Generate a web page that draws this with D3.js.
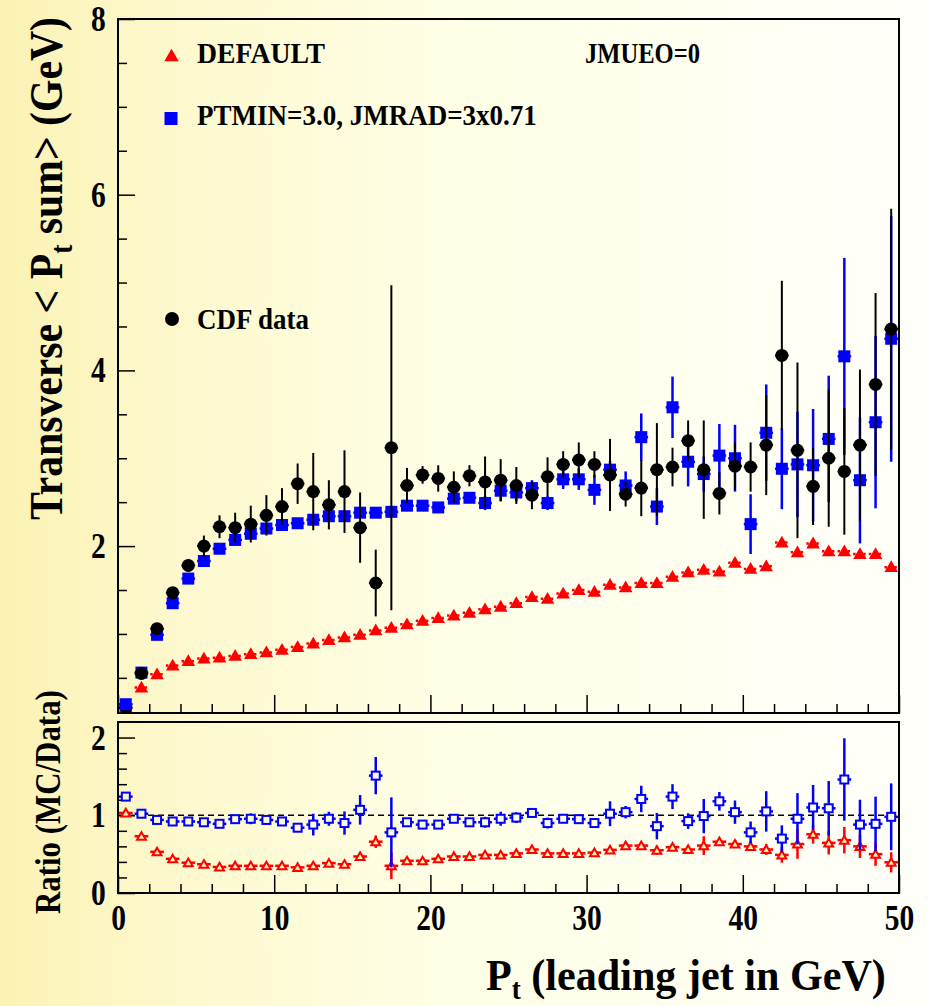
<!DOCTYPE html>
<html><head><meta charset="utf-8">
<script src="https://cdn.jsdelivr.net/npm/d3@7"></script>
<style>html,body{margin:0;padding:0;background:#fff}svg{display:block}</style>
</head><body><svg id="c" width="928" height="1006"></svg>
<script>
// ---------------- DATA ----------------
const binCenters = [0.5,1.5,2.5,3.5,4.5,5.5,6.5,7.5,8.5,9.5,10.5,11.5,12.5,13.5,14.5,15.5,16.5,17.5,18.5,19.5,
  20.5,21.5,22.5,23.5,24.5,25.5,26.5,27.5,28.5,29.5,30.5,31.5,32.5,33.5,34.5,35.5,36.5,37.5,38.5,39.5,
  40.5,41.5,42.5,43.5,44.5,45.5,46.5,47.5,48.5,49.5];

const cdfData = [0.16,0.55,1.06,1.47,1.78,2.00,2.22,2.21,2.25,2.35,2.45,2.71,2.62,2.47,2.62,2.21,1.58,3.12,2.69,2.81,
  2.77,2.67,2.80,2.73,2.75,2.69,2.58,2.79,2.93,2.98,2.93,2.81,2.59,2.66,2.87,2.90,3.20,2.87,2.60,2.91,
  2.90,3.15,4.17,3.09,2.68,3.00,2.85,3.15,3.84,4.47];
const cdfErr = [0.02,0.03,0.04,0.05,0.07,0.12,0.13,0.17,0.21,0.23,0.21,0.23,0.44,0.28,0.47,0.40,0.38,1.85,0.20,0.10,
  0.15,0.18,0.12,0.29,0.24,0.21,0.16,0.22,0.15,0.20,0.15,0.41,0.14,0.32,0.53,0.22,0.23,0.56,0.24,0.27,
  0.28,0.57,0.85,1.00,0.44,0.78,0.72,0.86,1.04,1.37];

const ptminVals = [0.20,0.56,0.99,1.35,1.63,1.83,1.97,2.07,2.14,2.20,2.24,2.26,2.30,2.34,2.34,2.38,2.38,2.39,2.46,2.46,
  2.44,2.54,2.55,2.49,2.63,2.61,2.66,2.49,2.76,2.76,2.64,2.87,2.69,3.24,2.45,3.58,2.96,2.82,3.03,3.00,
  2.25,3.29,2.88,2.93,2.92,3.22,4.16,2.75,3.41,4.36];
const ptminErr = [0.03,0.03,0.03,0.03,0.03,0.03,0.03,0.03,0.03,0.03,0.03,0.03,0.03,0.03,0.03,0.05,0.05,0.05,0.05,0.05,
  0.05,0.05,0.05,0.08,0.12,0.10,0.09,0.08,0.11,0.12,0.17,0.10,0.16,0.27,0.21,0.35,0.28,0.20,0.36,0.38,
  0.34,0.55,0.46,0.60,0.64,0.72,1.12,0.72,0.98,1.40];

const defaultVals = [0.165,0.39,0.54,0.64,0.69,0.72,0.73,0.75,0.77,0.79,0.82,0.85,0.89,0.93,0.96,0.99,1.04,1.07,1.11,1.15,
  1.18,1.21,1.24,1.28,1.31,1.35,1.42,1.40,1.46,1.50,1.48,1.56,1.53,1.58,1.58,1.65,1.70,1.73,1.71,1.81,
  1.74,1.77,2.04,1.93,2.03,1.94,1.94,1.91,1.91,1.76];
const defaultErr = [0.01,0.01,0.01,0.01,0.01,0.01,0.01,0.01,0.01,0.01,0.01,0.01,0.01,0.01,0.01,0.01,0.01,0.01,0.01,0.01,
  0.01,0.01,0.01,0.01,0.01,0.01,0.01,0.01,0.01,0.01,0.01,0.01,0.01,0.01,0.01,0.01,0.01,0.03,0.03,0.03,
  0.03,0.03,0.05,0.05,0.05,0.05,0.05,0.05,0.05,0.05];

const ratioPtmin = [1.24,1.02,0.94,0.92,0.92,0.91,0.89,0.95,0.955,0.94,0.92,0.84,0.88,0.955,0.90,1.07,1.51,0.78,0.91,0.88,
  0.88,0.955,0.91,0.91,0.955,0.97,1.03,0.90,0.955,0.95,0.90,1.02,1.04,1.21,0.86,1.24,0.925,0.99,1.18,1.04,
  0.78,1.05,0.70,0.955,1.10,1.09,1.46,0.88,0.89,0.98];
const ratioPtminErr = [0.03,0.03,0.03,0.03,0.03,0.03,0.04,0.05,0.07,0.06,0.05,0.05,0.14,0.09,0.15,0.19,0.24,0.45,0.05,0.04,
  0.04,0.04,0.04,0.07,0.09,0.07,0.06,0.07,0.05,0.06,0.05,0.16,0.08,0.17,0.17,0.16,0.10,0.22,0.12,0.15,
  0.14,0.26,0.17,0.33,0.29,0.35,0.53,0.32,0.35,0.43];

const ratioDefault = [1.03,0.73,0.53,0.44,0.39,0.37,0.335,0.35,0.35,0.35,0.35,0.33,0.35,0.385,0.37,0.47,0.66,0.35,0.415,0.415,
  0.44,0.47,0.47,0.49,0.49,0.51,0.56,0.51,0.51,0.51,0.52,0.555,0.61,0.61,0.55,0.59,0.56,0.61,0.66,0.63,
  0.60,0.56,0.49,0.63,0.755,0.645,0.68,0.60,0.50,0.395];
const ratioDefaultErr = [0.01,0.01,0.01,0.01,0.01,0.01,0.01,0.01,0.01,0.01,0.01,0.01,0.01,0.01,0.01,0.03,0.08,0.17,0.02,0.02,
  0.02,0.02,0.02,0.02,0.02,0.02,0.02,0.02,0.02,0.02,0.02,0.03,0.03,0.03,0.06,0.03,0.03,0.12,0.05,0.05,
  0.06,0.07,0.10,0.19,0.12,0.15,0.17,0.15,0.15,0.13];

const xMajorTicks = [0,10,20,30,40,50];
const xMinorTicks = [2,4,6,8,12,14,16,18,22,24,26,28,32,34,36,38,42,44,46,48];
const yMainMajorTicks = [2,4,6,8];
const yMainMinorTicks = [0.5,1,1.5,2.5,3,3.5,4.5,5,5.5,6.5,7,7.5];
const yRatioMajorTicks = [0,1,2];
const yRatioMinorTicks = [0.2,0.4,0.6,0.8,1.2,1.4,1.6,1.8];

const legendLabels = ["DEFAULT","PTMIN=3.0, JMRAD=3x0.71","CDF data"];
const tuneLabel = "JMUEO=0";

// ---------------- LAYOUT ----------------
const W = 928, H = 1006;
const L = 118, R = 899;
const mainTop = 19, mainBot = 713;
const ratTop = 722, ratBot = 893;
const FONT = "'Liberation Serif','Times New Roman',serif";
const binW = 1;

const svg = d3.select("#c");
const defs = svg.append("defs");
const grad = defs.append("linearGradient").attr("id","bg")
  .attr("gradientUnits","userSpaceOnUse").attr("x1",0).attr("y1",0).attr("x2",W).attr("y2",0);
grad.append("stop").attr("offset",0).attr("stop-color","#fbf2b4");
grad.append("stop").attr("offset",0.18).attr("stop-color","#fdf8cc");
grad.append("stop").attr("offset",0.45).attr("stop-color","#fffee4");
grad.append("stop").attr("offset",1).attr("stop-color","#fffffa");
svg.append("rect").attr("width",W).attr("height",H).attr("fill","url(#bg)");
defs.append("clipPath").attr("id","clipMain").append("rect")
  .attr("x",L).attr("y",mainTop).attr("width",R-L).attr("height",mainBot-mainTop);

const x = d3.scaleLinear().domain([0,50]).range([L,R]);
const yM = d3.scaleLinear().domain([0.1,8]).range([mainBot,mainTop]);
const yR = d3.scaleLinear().domain([0,2.2]).range([ratBot,ratTop]);

function styleAxis(g){
  g.select(".domain").remove();
  g.selectAll("line").attr("stroke","#000").attr("stroke-width",1.5);
}
function fontAxis(g, size, sx){
  g.attr("font-family",FONT).attr("font-size",size).attr("font-weight","bold");
  g.selectAll("text").attr("fill","#000").attr("transform",`scale(${sx},1)`);
}

// ---- Main axes
svg.append("g").attr("transform",`translate(0,${mainBot})`)
  .call(d3.axisBottom(x).tickValues(xMajorTicks).tickSize(-18).tickFormat("")).call(styleAxis);
svg.append("g").attr("transform",`translate(0,${mainBot})`)
  .call(d3.axisBottom(x).tickValues(xMinorTicks).tickSize(-9).tickFormat("")).call(styleAxis);
svg.append("g").attr("transform",`translate(${L},0)`)
  .call(d3.axisLeft(yM).tickValues(yMainMajorTicks).tickSize(-17).tickPadding(15).tickFormat(d3.format("d")))
  .call(styleAxis).call(g=>fontAxis(g,36,0.82));
svg.append("g").attr("transform",`translate(${L},0)`)
  .call(d3.axisLeft(yM).tickValues(yMainMinorTicks).tickSize(-9).tickFormat("")).call(styleAxis);

// ---- Ratio axes
svg.append("g").attr("transform",`translate(0,${ratBot})`)
  .call(d3.axisBottom(x).tickValues(xMajorTicks).tickSize(-18).tickPadding(11).tickFormat(d3.format("d")))
  .call(styleAxis).call(g=>fontAxis(g,36,0.82));
svg.append("g").attr("transform",`translate(0,${ratBot})`)
  .call(d3.axisBottom(x).tickValues(xMinorTicks).tickSize(-9).tickFormat("")).call(styleAxis);
svg.append("g").attr("transform",`translate(${L},0)`)
  .call(d3.axisLeft(yR).tickValues(yRatioMajorTicks).tickSize(-17).tickPadding(15).tickFormat(d3.format("d")))
  .call(styleAxis).call(g=>fontAxis(g,36,0.82));
svg.append("g").attr("transform",`translate(${L},0)`)
  .call(d3.axisLeft(yR).tickValues(yRatioMinorTicks).tickSize(-9).tickFormat("")).call(styleAxis);

// ---- frames
svg.append("rect").attr("x",L).attr("y",mainTop).attr("width",R-L).attr("height",mainBot-mainTop)
  .attr("fill","none").attr("stroke","#000").attr("stroke-width",2);
svg.append("rect").attr("x",L).attr("y",ratTop).attr("width",R-L).attr("height",ratBot-ratTop)
  .attr("fill","none").attr("stroke","#000").attr("stroke-width",2);

svg.append("line").attr("x1",x(0)).attr("x2",x(50)).attr("y1",yR(1)).attr("y2",yR(1))
  .attr("stroke","#000").attr("stroke-width",1.5).attr("stroke-dasharray","6,4");

// ---------------- MARKS ----------------
function mkRows(vals, errs){ return binCenters.map((c,i)=>({x:c, v:vals[i], e:errs[i]})); }

function drawSeries(rows, y, opt){
  const g = svg.append("g");
  if (opt.clip) g.attr("clip-path","url(#clipMain)");
  g.selectAll("line.h").data(rows).join("line")
    .attr("x1",d=>x(d.x-binW/2)+1).attr("x2",d=>x(d.x+binW/2)-1)
    .attr("y1",d=>y(d.v)).attr("y2",d=>y(d.v))
    .attr("stroke",opt.color).attr("stroke-width",opt.lw)
    .attr("stroke-dasharray",opt.dash||null);
  g.selectAll("line.v").data(rows).join("line")
    .attr("x1",d=>x(d.x)).attr("x2",d=>x(d.x))
    .attr("y1",d=>y(d.v-d.e)).attr("y2",d=>y(d.v+d.e))
    .attr("stroke",opt.color).attr("stroke-width",opt.lw)
    .attr("stroke-dasharray",opt.dash||null);
  const fill = opt.open ? "url(#bg)" : opt.color;
  const sw = opt.open ? 2 : 0;
  if (opt.shape === "tri"){
    g.selectAll("path.m").data(rows).join("path")
      .attr("d",d3.symbol(d3.symbolTriangle, opt.size))
      .attr("transform",d=>`translate(${x(d.x)},${y(d.v)+opt.dy})`)
      .attr("fill",fill).attr("stroke",opt.color).attr("stroke-width",sw);
  } else if (opt.shape === "sq"){
    g.selectAll("rect.m").data(rows).join("rect")
      .attr("x",d=>x(d.x)-opt.size/2).attr("y",d=>y(d.v)-opt.size/2)
      .attr("width",opt.size).attr("height",opt.size)
      .attr("fill",fill).attr("stroke",opt.color).attr("stroke-width",sw);
  } else {
    g.selectAll("circle.m").data(rows).join("circle")
      .attr("cx",d=>x(d.x)).attr("cy",d=>y(d.v)).attr("r",opt.size)
      .attr("fill",fill);
  }
}

drawSeries(mkRows(defaultVals, defaultErr), yM, {color:"#ff0000", lw:2.5, dash:"2.5,2.5", shape:"tri", size:80, dy:1, clip:true});
drawSeries(mkRows(cdfData, cdfErr).slice(0,1), yM, {color:"#000000", lw:2, shape:"circ", size:6.5, clip:true});
drawSeries(mkRows(ptminVals, ptminErr), yM, {color:"#0000ff", lw:2.5, shape:"sq", size:12, clip:true});
drawSeries(mkRows(cdfData, cdfErr).slice(1), yM, {color:"#000000", lw:2, shape:"circ", size:6.5, clip:true});

drawSeries(mkRows(ratioDefault, ratioDefaultErr), yR, {color:"#ff0000", lw:2.5, shape:"tri", size:34, dy:1, open:true});
drawSeries(mkRows(ratioPtmin, ratioPtminErr), yR, {color:"#0000ff", lw:2.5, shape:"sq", size:8, open:true});

// ---------------- TEXT helpers ----------------
// fit a text to a target length by a horizontal scale along its own direction
function fitText(sel, target, baseTransform){
  const w = sel.node().getComputedTextLength();
  const s = target / w;
  sel.attr("transform", `${baseTransform} scale(${s},1)`);
  return sel;
}
function legendText(xp, yp, s, size, len){
  const t = svg.append("text").attr("x",0).attr("y",0).text(s)
    .attr("font-family",FONT).attr("font-weight","bold").attr("font-size",size).attr("fill","#000");
  return fitText(t, len, `translate(${xp},${yp})`);
}

// ---------------- LEGEND ----------------
svg.append("path").attr("d",d3.symbol(d3.symbolTriangle,90))
  .attr("transform","translate(171.5,57)").attr("fill","#ff0000");
svg.append("rect").attr("x",164.5).attr("y",112).attr("width",13).attr("height",13).attr("fill","#0000ff");
svg.append("circle").attr("cx",172).attr("cy",319).attr("r",7).attr("fill","#000");
legendText(197, 63, legendLabels[0], 30, 128);
legendText(197, 125, legendLabels[1], 30, 340);
legendText(197, 329, legendLabels[2], 30, 112);
legendText(585, 63, tuneLabel, 30, 115);

// ---------------- AXIS TITLES ----------------
const yt = svg.append("text").attr("x",0).attr("y",0)
  .attr("font-family",FONT).attr("font-weight","bold").attr("font-size",47).attr("fill","#000");
yt.append("tspan").text("Transverse < P");
yt.append("tspan").text("t").attr("font-size",31).attr("dy",10);
yt.append("tspan").text(" sum> (GeV)").attr("dy",-10);
fitText(yt, 503, "translate(62,520) rotate(-90)");

const rt = svg.append("text").attr("x",0).attr("y",0)
  .attr("font-family",FONT).attr("font-weight","bold").attr("font-size",35).attr("fill","#000")
  .text("Ratio (MC/Data)");
fitText(rt, 224, "translate(60,914) rotate(-90)");

const xt = svg.append("text").attr("x",0).attr("y",0)
  .attr("font-family",FONT).attr("font-weight","bold").attr("font-size",45).attr("fill","#000");
xt.append("tspan").text("P");
xt.append("tspan").text("t").attr("font-size",29).attr("dy",9);
xt.append("tspan").text(" (leading jet in GeV)").attr("dy",-9);
fitText(xt, 400, "translate(486,990)");
</script></body></html>
